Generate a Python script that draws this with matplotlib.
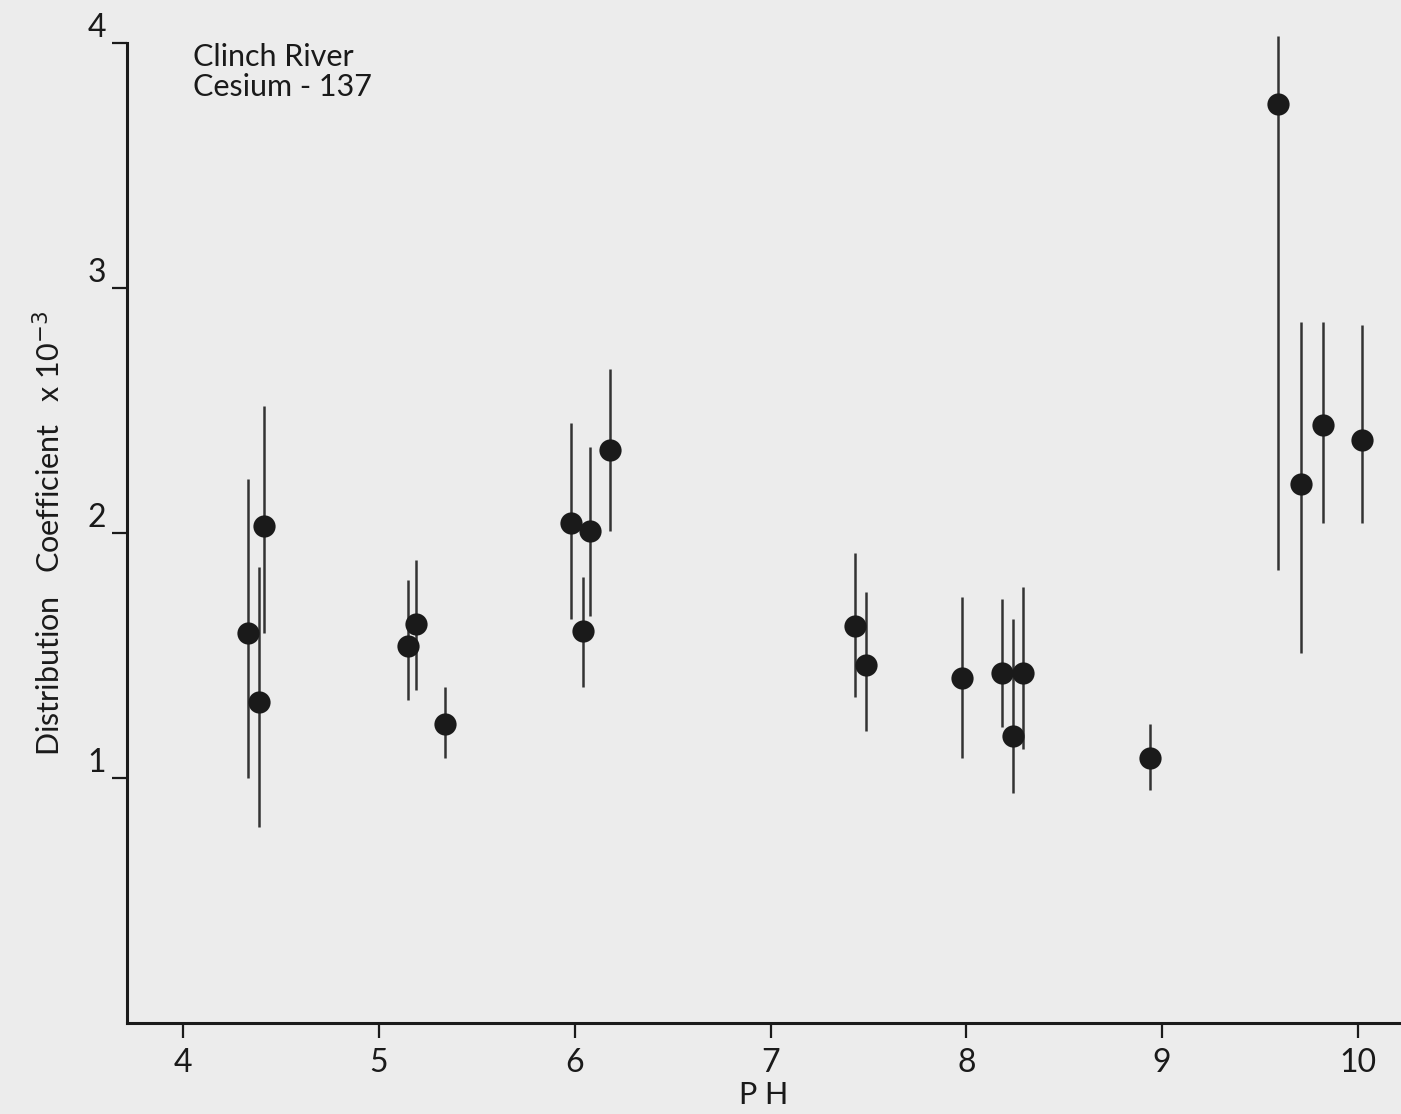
import matplotlib
matplotlib.use("Agg")
import matplotlib.pyplot as plt
import numpy as np

# Data (pH vs distribution coefficient x 10^-3)
ph = [4.33, 4.415, 4.385, 5.19, 5.15, 5.34,
      5.98, 6.04, 6.08, 6.18,
      7.43, 7.49, 7.98, 8.18, 8.24, 8.29,
      8.94, 9.59, 9.71, 9.82, 10.02]
kd = [1.59, 2.03, 1.31, 1.63, 1.54, 1.22,
      2.04, 1.60, 2.01, 2.34,
      1.62, 1.46, 1.41, 1.43, 1.17, 1.43,
      1.08, 3.75, 2.20, 2.44, 2.38]
kd_high = [2.22, 2.52, 1.86, 1.89, 1.81, 1.37,
           2.45, 1.82, 2.35, 2.67,
           1.92, 1.76, 1.74, 1.73, 1.65, 1.78,
           1.22, 4.03, 2.86, 2.86, 2.85]
kd_low = [1.00, 1.59, 0.80, 1.36, 1.32, 1.08,
          1.65, 1.37, 1.66, 2.01,
          1.33, 1.19, 1.08, 1.21, 0.94, 1.12,
          0.95, 1.85, 1.51, 2.04, 2.04]

x_ticks = [4, 5, 6, 7, 8, 9, 10]
x_ticklabels = ["4", "5", "6", "7", "8", "9", "10"]
y_ticks = [1, 2, 3, 4]
y_ticklabels = ["1", "2", "3", "4"]

plt.rcParams['font.family'] = ['Lato', 'DejaVu Sans']
ink = '#1a1a1a'
paper = '#ececec'

fig = plt.figure(figsize=(14.01, 11.14), dpi=100, facecolor=paper)
ax = fig.add_axes([0.0906, 0.0817, 0.9094, 0.8797])
ax.set_facecolor(paper)

ph_a = np.array(ph)
kd_a = np.array(kd)
yerr = [kd_a - np.array(kd_low), np.array(kd_high) - kd_a]
eb = ax.errorbar(ph_a, kd_a, yerr=yerr, fmt='o', color=ink, ecolor='#333333',
                 elinewidth=1.8, capsize=0, markersize=16, markeredgewidth=0,
                 zorder=3)
eb.lines[0].set_clip_on(False)
for art in eb.lines[2]:
    art.set_clip_on(False)

ax.set_xlim(3.713, 10.22)
ax.set_ylim(0, 4)

for s in ['top', 'right']:
    ax.spines[s].set_visible(False)
for s in ['left', 'bottom']:
    ax.spines[s].set_color(ink)
    ax.spines[s].set_linewidth(2.2)

ax.set_xticks(x_ticks)
ax.set_xticklabels(x_ticklabels)
ax.set_yticks(y_ticks)
ax.set_yticklabels(y_ticklabels)
ax.tick_params(axis='x', direction='out', length=11, width=1.6, color=ink,
               labelsize=23, labelcolor=ink, pad=7)
ax.tick_params(axis='y', direction='out', length=11, width=1.6, color=ink,
               labelsize=23, labelcolor=ink, pad=4)
for lab in ax.get_yticklabels():
    lab.set_va('bottom')

ax.set_xlabel('P H', fontsize=22, color=ink, labelpad=2)
ax.set_ylabel('Distribution   Coefficient   x 10$^{-3}$', fontsize=22,
              color=ink, labelpad=16)

ax.text(0.052, 1.0, 'Clinch River\nCesium - 137', transform=ax.transAxes,
        fontsize=22, color=ink, ha='left', va='top', linespacing=1.1)

fig.savefig('out.png', dpi=100, facecolor=paper)
